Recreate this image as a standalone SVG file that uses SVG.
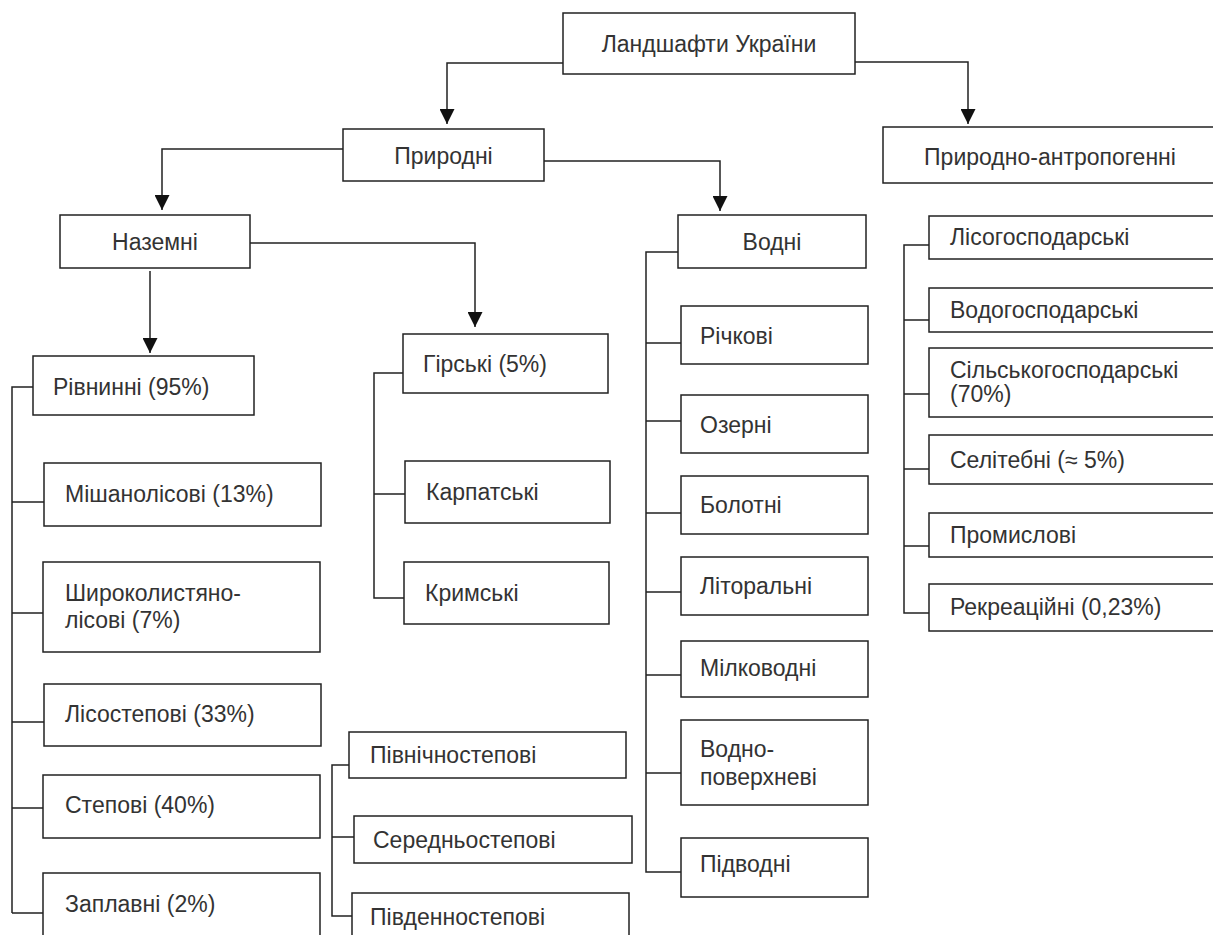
<svg xmlns="http://www.w3.org/2000/svg" width="1213" height="935" viewBox="0 0 1213 935">
<defs>
<marker id="arr" viewBox="0 0 10 10" refX="10" refY="5" markerWidth="15" markerHeight="15" markerUnits="userSpaceOnUse" orient="auto">
<path d="M0,0 L10,5 L0,10 z" fill="#111"/>
</marker>
</defs>
<style>
.b{fill:#fff;stroke:#222;stroke-width:1.5}
.t{font-family:"Liberation Sans",Arial,sans-serif;font-size:23px;fill:#333}
.c{text-anchor:middle}
.l{fill:none;stroke:#222;stroke-width:1.5}
</style>
<rect width="1213" height="935" fill="#fff"/>
<g id="connectors">
<path class="l" d="M563,63 H447 V124" marker-end="url(#arr)"/>
<path class="l" d="M855,62 H968 V124" marker-end="url(#arr)"/>
<path class="l" d="M343,149 H162 V210" marker-end="url(#arr)"/>
<path class="l" d="M544,161 H720 V211" marker-end="url(#arr)"/>
<path class="l" d="M250,243 H475 V327" marker-end="url(#arr)"/>
<path class="l" d="M150,271 V353" marker-end="url(#arr)"/>
<path class="l" d="M33,387 H12 V913 M12,502 H44 M12,613 H43 M12,722 H44 M12,808 H43 M12,913 H43"/>
<path class="l" d="M403,373 H374 V598 H404 M374,494 H405"/>
<path class="l" d="M678,252 H646 V872 H681 M646,343 H681 M646,421 H681 M646,513 H681 M646,592 H681 M646,675 H681 M646,773 H681"/>
<path class="l" d="M349,765 H332 V916 H352 M332,837 H354"/>
<path class="l" d="M929,245 H904 V613 H929 M904,320 H929 M904,394 H929 M904,469 H929 M904,546 H929"/>
</g>
<g id="n-root"><rect class="b" x="563" y="13" width="292" height="61"/><text class="t c" x="709" y="52">Ландшафти України</text></g>
<g id="n-pryrodni"><rect class="b" x="343" y="129" width="201" height="52"/><text class="t c" x="443.5" y="164">Природні</text></g>
<g id="n-pa"><rect class="b" x="883" y="127" width="340" height="56"/><text class="t c" x="1050" y="165">Природно-антропогенні</text></g>
<g id="n-nazemni"><rect class="b" x="60" y="215" width="190" height="53"/><text class="t c" x="155" y="250">Наземні</text></g>
<g id="n-vodni"><rect class="b" x="678" y="215" width="188" height="53"/><text class="t c" x="772" y="250">Водні</text></g>
<g id="n-rivnynni"><rect class="b" x="33" y="356" width="221" height="59"/><text class="t" x="53" y="395">Рівнинні (95%)</text></g>
<g id="n-hirski"><rect class="b" x="403" y="334" width="205" height="59"/><text class="t" x="423" y="372">Гірські (5%)</text></g>
<g id="n-karpatski"><rect class="b" x="405" y="461" width="205" height="62"/><text class="t" x="426" y="500">Карпатські</text></g>
<g id="n-krymski"><rect class="b" x="404" y="562" width="205" height="62"/><text class="t" x="425" y="601">Кримські</text></g>
<g id="n-mishano"><rect class="b" x="44" y="463" width="277" height="63"/><text class="t" x="65" y="502">Мішанолісові (13%)</text></g>
<g id="n-shyroko"><rect class="b" x="43" y="562" width="277" height="90"/><text class="t" x="65" y="601">Широколистяно-</text><text class="t" x="65" y="628">лісові (7%)</text></g>
<g id="n-lisostep"><rect class="b" x="44" y="684" width="277" height="62"/><text class="t" x="65" y="722">Лісостепові (33%)</text></g>
<g id="n-stepovi"><rect class="b" x="43" y="775" width="277" height="63"/><text class="t" x="65" y="813">Степові (40%)</text></g>
<g id="n-zaplavni"><rect class="b" x="43" y="873" width="277" height="80"/><text class="t" x="65" y="912">Заплавні (2%)</text></g>
<g id="n-pivnich"><rect class="b" x="349" y="732" width="277" height="46"/><text class="t" x="370" y="763">Північностепові</text></g>
<g id="n-seredn"><rect class="b" x="354" y="816" width="278" height="47"/><text class="t" x="373" y="848">Середньостепові</text></g>
<g id="n-pivden"><rect class="b" x="352" y="893" width="277" height="60"/><text class="t" x="370" y="925">Південностепові</text></g>
<g id="n-richkovi"><rect class="b" x="681" y="306" width="187" height="58"/><text class="t" x="700" y="344">Річкові</text></g>
<g id="n-ozerni"><rect class="b" x="681" y="395" width="187" height="58"/><text class="t" x="700" y="433">Озерні</text></g>
<g id="n-bolotni"><rect class="b" x="681" y="476" width="187" height="58"/><text class="t" x="700" y="513">Болотні</text></g>
<g id="n-litoralni"><rect class="b" x="681" y="557" width="187" height="58"/><text class="t" x="700" y="594">Літоральні</text></g>
<g id="n-milkovodni"><rect class="b" x="681" y="641" width="187" height="56"/><text class="t" x="700" y="676">Мілководні</text></g>
<g id="n-vodnopov"><rect class="b" x="681" y="720" width="187" height="85"/><text class="t" x="700" y="757">Водно-</text><text class="t" x="700" y="785">поверхневі</text></g>
<g id="n-pidvodni"><rect class="b" x="681" y="838" width="187" height="59"/><text class="t" x="700" y="872">Підводні</text></g>
<g id="n-lisohosp"><rect class="b" x="929" y="216" width="300" height="43"/><text class="t" x="950" y="245">Лісогосподарські</text></g>
<g id="n-vodohosp"><rect class="b" x="929" y="288" width="300" height="44"/><text class="t" x="950" y="318">Водогосподарські</text></g>
<g id="n-silsko"><rect class="b" x="929" y="348" width="300" height="69"/><text class="t" x="950" y="378">Сільськогосподарські</text><text class="t" x="950" y="402">(70%)</text></g>
<g id="n-selitebni"><rect class="b" x="929" y="435" width="300" height="49"/><text class="t" x="950" y="468">Селітебні (≈ 5%)</text></g>
<g id="n-promyslovi"><rect class="b" x="929" y="513" width="300" height="44"/><text class="t" x="950" y="543">Промислові</text></g>
<g id="n-rekreac"><rect class="b" x="929" y="584" width="300" height="47"/><text class="t" x="950" y="615">Рекреаційні (0,23%)</text></g>
</svg>
